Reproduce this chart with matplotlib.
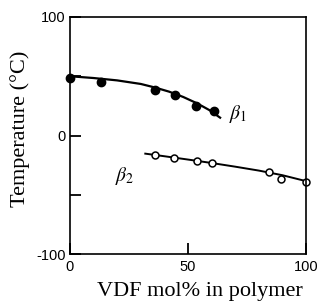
import matplotlib
matplotlib.use("Agg")
import matplotlib.pyplot as plt
from matplotlib.ticker import FixedLocator

# beta1 transition (filled circles)
b1_x = [0, 13, 36, 44.5, 53.5, 61]
b1_y = [48.5, 45.5, 38.5, 34.5, 25, 20.5]
# hand-drawn curve through beta1
b1_curve_x = [0, 10, 20, 30, 36, 42, 48, 54, 59, 64]
b1_curve_y = [50, 48.5, 46.5, 43.5, 40.5, 37, 32.5, 27, 21.5, 14.5]

# beta2 transition (open circles)
b2_x = [36, 44, 54, 60, 84.5, 89.5, 100]
b2_y = [-16.5, -19, -21.5, -23, -31, -37, -39]
b2_line_x = [31.5, 40, 50, 60, 70, 80, 90, 100]
b2_line_y = [-15.2, -17.5, -20.3, -23.2, -26.3, -29.6, -33.5, -38.5]

xticks = [0, 50, 100]
yticks = [-100, 0, 100]
yminor = [-50, 50]

plt.rcParams["mathtext.fontset"] = "stix"

fig = plt.figure(figsize=(3.19, 3.03), dpi=100)
ax = fig.add_axes([0.2194, 0.1617, 0.7398, 0.7822])

ax.plot(b1_curve_x, b1_curve_y, color="black", lw=1.6, solid_capstyle="butt")
ax.plot(b1_x, b1_y, "o", color="black", ms=6, clip_on=False)
ax.plot(b2_line_x, b2_line_y, color="black", lw=1.4, solid_capstyle="butt")
ax.plot(b2_x, b2_y, "o", mfc="white", mec="black", mew=1.1, ms=5, clip_on=False)

ax.text(71, 18, r"$\beta_1$", fontsize=14, ha="center", va="center")
ax.text(23, -34, r"$\beta_2$", fontsize=14, ha="center", va="center")

ax.set_xlim(0, 100)
ax.set_ylim(-100, 100)
ax.xaxis.set_major_locator(FixedLocator(xticks))
ax.yaxis.set_major_locator(FixedLocator(yticks))
ax.yaxis.set_minor_locator(FixedLocator(yminor))
ax.set_xticklabels(["0", "50", "100"])
ax.set_yticklabels(["-100", "0", "100"])
ax.tick_params(direction="in", length=8, width=1.3, top=False, right=False,
               labelsize=10.5, pad=3)
ax.tick_params(axis="x", pad=4)
ax.tick_params(which="minor", direction="in", length=8, width=1.3, right=False)
for lab in ax.get_xticklabels() + ax.get_yticklabels():
    lab.set_fontfamily("Liberation Sans")

for s in ax.spines.values():
    s.set_linewidth(1.2)

ax.set_xlabel("VDF mol% in polymer", fontsize=16, family="Liberation Serif")
ax.set_ylabel("Temperature (°C)", fontsize=16, family="Liberation Serif")
ax.xaxis.set_label_coords(0.549, -0.118)
ax.yaxis.set_label_coords(-0.17, 0.527)

fig.savefig("out.png", dpi=100)
